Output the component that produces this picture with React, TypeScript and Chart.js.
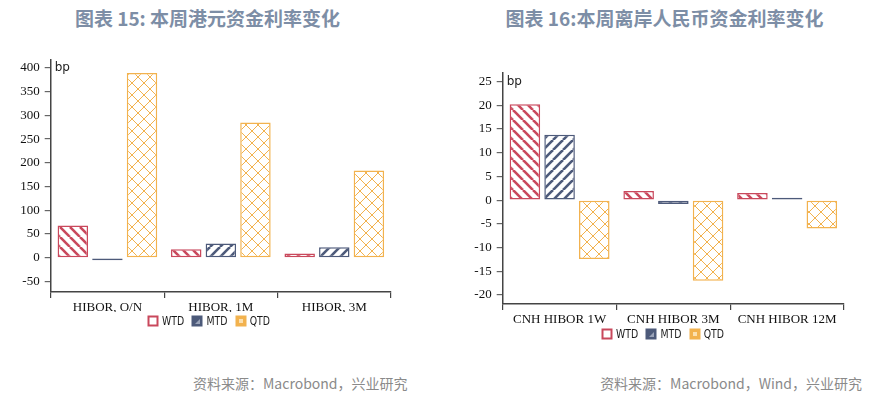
import React, { useEffect, useRef } from "react";
import { Chart, registerables } from "chart.js";

Chart.register(...registerables);

// ---------- data ----------
const hkdCategories = ["HIBOR, O/N", "HIBOR, 1M", "HIBOR, 3M"];
const hkdWTD = [68, 18, 9];
const hkdMTD = [-5, 30, 22];
const hkdQTD = [389, 285, 184];
const hkdTicks = [-50, 0, 50, 100, 150, 200, 250, 300, 350, 400];

const cnhCategories = ["CNH HIBOR 1W", "CNH HIBOR 3M", "CNH HIBOR 12M"];
const cnhWTD = [20.2, 1.9, 1.5];
const cnhMTD = [13.8, -0.8, 0.5];
const cnhQTD = [-12.4, -17.0, -6.0];
const cnhTicks = [-20, -15, -10, -5, 0, 5, 10, 15, 20, 25];

const seriesNames = ["WTD", "MTD", "QTD"];

const RED = "#c9485c";
const NAVY = "#4d5a7a";
const ORANGE = "#f2b24e";

function makeStripe(color: string, dir: 1 | -1) {
  const s = 10;
  const c = document.createElement("canvas");
  c.width = s;
  c.height = s;
  const g = c.getContext("2d")!;
  g.fillStyle = "#fff";
  g.fillRect(0, 0, s, s);
  g.strokeStyle = color;
  g.lineWidth = 2.6;
  for (const k of [-s, 0, s]) {
    g.beginPath();
    if (dir === 1) {
      g.moveTo(k, 0);
      g.lineTo(k + s, s);
    } else {
      g.moveTo(k, s);
      g.lineTo(k + s, 0);
    }
    g.stroke();
  }
  return g.createPattern(c, "repeat")!;
}

function makeCross(color: string) {
  const w = 12;
  const h = 12;
  const c = document.createElement("canvas");
  c.width = w;
  c.height = h;
  const g = c.getContext("2d")!;
  g.fillStyle = "#fff";
  g.fillRect(0, 0, w, h);
  g.strokeStyle = color;
  g.lineWidth = 1;
  for (const k of [-w, 0, w]) {
    g.beginPath();
    g.moveTo(k, 0);
    g.lineTo(k + w, h);
    g.stroke();
    g.beginPath();
    g.moveTo(k, h);
    g.lineTo(k + w, 0);
    g.stroke();
  }
  return g.createPattern(c, "repeat")!;
}

type PanelProps = {
  categories: string[];
  wtd: number[];
  mtd: number[];
  qtd: number[];
  ticks: number[];
  min: number;
  max: number;
  left: number;
  top: number;
  width: number;
  height: number;
  yWidth: number;
  padTop: number;
  padRight: number;
  padBottom: number;
  legendCenter: number;
  legendOffset: number;
};

function Panel(p: PanelProps) {
  const ref = useRef<HTMLCanvasElement | null>(null);
  useEffect(() => {
    const canvas = ref.current!;
    const patterns = [makeStripe(RED, 1), makeStripe(NAVY, -1), makeCross(ORANGE)];
    const borders = [RED, NAVY, ORANGE];
    const values = [p.wtd, p.mtd, p.qtd];

    const bpPlugin = {
      id: "bpLabel",
      afterDraw(chart: any) {
        const y = chart.scales.y;
        const ctx = chart.ctx;
        ctx.save();
        ctx.font = "12px 'DejaVu Sans', sans-serif";
        ctx.fillStyle = "#222";
        ctx.textBaseline = "middle";
        ctx.textAlign = "left";
        ctx.fillText("bp", chart.chartArea.left + 4, y.getPixelForValue(p.ticks[p.ticks.length - 1]));
        ctx.restore();
      },
    };

    // legend drawn with horizontally condensed text
    const legendPlugin = {
      id: "narrowLegend",
      afterDraw(chart: any) {
        const ctx = chart.ctx;
        const xs = chart.scales.x;
        const cy = xs.top + p.legendOffset;
        const box = 10;
        const gap = 4;
        const spacing = 8.3;
        const sx = 0.72;
        ctx.save();
        ctx.font = "13px 'DejaVu Sans', sans-serif";
        const items = chart.data.datasets.map((ds: any) => ({
          label: ds.label as string,
          color: ds.borderColor as string,
          w: ctx.measureText(ds.label).width * sx,
        }));
        const total =
          items.reduce((a: number, it: any) => a + box + gap + it.w, 0) + spacing * (items.length - 1);
        let x = p.legendCenter - total / 2;
        items.forEach((it: any, i: number) => {
          const bx = Math.round(x) + 0.5;
          const by = Math.round(cy - box / 2) + 0.5;
          ctx.fillStyle = i === 0 ? "#fff" : it.color;
          ctx.fillRect(bx, by, box - 1, box - 1);
          if (i === 1) {
            ctx.fillStyle = "#9aa3b8";
            ctx.beginPath();
            ctx.moveTo(bx + box - 2.5, by + 2.5);
            ctx.lineTo(bx + box - 2.5, by + box - 2.5);
            ctx.lineTo(bx + 2.5, by + box - 2.5);
            ctx.closePath();
            ctx.fill();
          } else if (i === 2) {
            ctx.fillStyle = "#fbe0b0";
            ctx.fillRect(bx + 2.5, by + 2.5, box - 6, box - 6);
          }
          ctx.strokeStyle = it.color;
          ctx.lineWidth = 2;
          ctx.strokeRect(bx, by, box - 1, box - 1);
          ctx.save();
          ctx.translate(x + box + gap, cy);
          ctx.scale(sx, 1);
          ctx.fillStyle = "#1a1a1a";
          ctx.textBaseline = "middle";
          ctx.textAlign = "left";
          ctx.fillText(it.label, 0, 1);
          ctx.restore();
          x += box + gap + it.w + spacing;
        });
        ctx.restore();
      },
    };

    const chart = new Chart(canvas, {
      type: "bar",
      data: {
        labels: p.categories,
        datasets: seriesNames.map((name, i) => ({
          label: name,
          data: values[i],
          backgroundColor: patterns[i] as any,
          borderColor: borders[i],
          borderWidth: 1.5,
          borderSkipped: false,
          categoryPercentage: 0.915,
          barPercentage: 0.88,
        })),
      },
      options: {
        animation: false,
        responsive: false,
        maintainAspectRatio: false,
        layout: { padding: { top: p.padTop, right: p.padRight, left: 0, bottom: p.padBottom } },
        plugins: {
          tooltip: { enabled: false },
          legend: { display: false },
        },
        scales: {
          x: {
            offset: true,
            grid: {
              offset: true,
              drawOnChartArea: false,
              drawTicks: true,
              tickLength: 6,
              color: (ctx: any) => (ctx.index >= p.categories.length ? "rgba(0,0,0,0)" : "#444"),
              lineWidth: 1.2,
            },
            border: { display: true, color: "#444", width: 1.5 },
            ticks: {
              color: "#111",
              padding: 2,
              maxRotation: 0,
              autoSkip: false,
              font: { family: "'Liberation Serif', 'Times New Roman', serif", size: 13 },
            },
            afterFit(scale: any) {
              scale.height = 20;
            },
          },
          y: {
            min: p.min,
            max: p.max,
            grid: {
              drawOnChartArea: false,
              drawTicks: true,
              tickLength: 6,
              color: "#666",
              lineWidth: 1.2,
            },
            border: { display: true, color: "#444", width: 1.5 },
            ticks: {
              color: "#111",
              padding: 5,
              font: { family: "'Liberation Serif', 'Times New Roman', serif", size: 13 },
            },
            afterBuildTicks(scale: any) {
              scale.ticks = p.ticks.map((v) => ({ value: v }));
            },
            afterFit(scale: any) {
              scale.width = p.yWidth;
            },
          },
        },
      },
      plugins: [bpPlugin, legendPlugin],
    });
    return () => chart.destroy();
  }, []);
  return (
    <canvas
      ref={ref}
      width={p.width}
      height={p.height}
      style={{ position: "absolute", left: p.left, top: p.top, width: p.width, height: p.height }}
    />
  );
}

const titleStyle: React.CSSProperties = {
  position: "absolute",
  top: 5,
  textAlign: "center",
  fontFamily: "'Noto Sans CJK SC', sans-serif",
  fontWeight: 700,
  fontSize: 19,
  color: "#7d8ea6",
  whiteSpace: "nowrap",
  lineHeight: "26px",
};

const sourceStyle: React.CSSProperties = {
  position: "absolute",
  top: 373,
  fontFamily: "'Noto Sans CJK SC', sans-serif",
  fontSize: 14,
  color: "#8a8a8a",
  whiteSpace: "nowrap",
  lineHeight: "20px",
};

export default function App() {
  return (
    <div
      style={{
        position: "absolute",
        left: 0,
        top: 0,
        width: 886,
        height: 397,
        background: "#fff",
        overflow: "hidden",
      }}
    >
      <div style={{ ...titleStyle, left: 0, width: 415 }}>图表 15: 本周港元资金利率变化</div>
      <div style={{ ...titleStyle, left: 443, width: 443 }}>图表 16:本周离岸人民币资金利率变化</div>
      <Panel
        categories={hkdCategories}
        wtd={hkdWTD}
        mtd={hkdMTD}
        qtd={hkdQTD}
        ticks={hkdTicks}
        min={-72}
        max={417}
        left={0}
        top={47}
        width={443}
        height={290}
        yWidth={50.7}
        padTop={12}
        padRight={52}
        padBottom={25}
        legendCenter={209}
        legendOffset={29}
      />
      <Panel
        categories={cnhCategories}
        wtd={cnhWTD}
        mtd={cnhMTD}
        qtd={cnhQTD}
        ticks={cnhTicks}
        min={-21.9}
        max={26.8}
        left={443}
        top={50}
        width={443}
        height={300}
        yWidth={59.7}
        padTop={23}
        padRight={42}
        padBottom={26}
        legendCenter={220}
        legendOffset={29.5}
      />
      <div style={{ ...sourceStyle, left: 193 }}>资料来源：Macrobond，兴业研究</div>
      <div style={{ ...sourceStyle, right: 24 }}>资料来源：Macrobond，Wind，兴业研究</div>
    </div>
  );
}
